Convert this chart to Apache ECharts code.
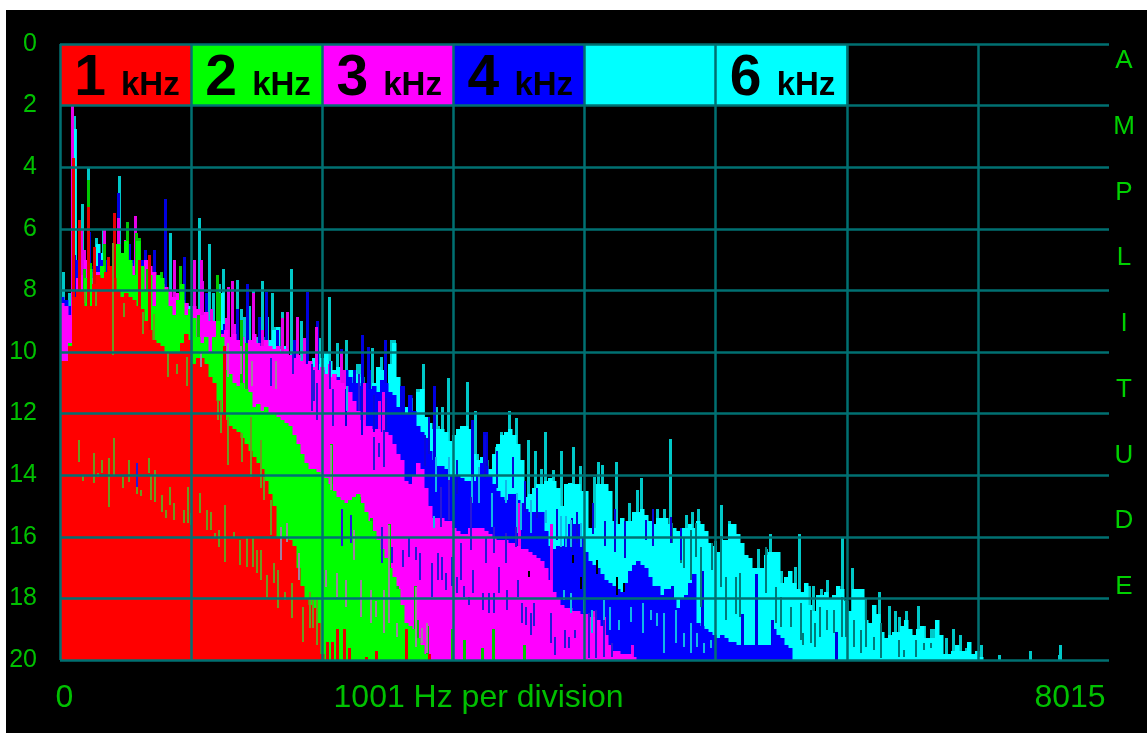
<!DOCTYPE html>
<html><head><meta charset="utf-8">
<style>html,body{margin:0;padding:0;background:#fff;width:1147px;height:733px;overflow:hidden}
#bg{position:absolute;left:6px;top:10px;width:1141px;height:723px;background:#000}
#c{position:absolute;left:0;top:0;width:1147px;height:733px}</style>
<script src="https://cdn.jsdelivr.net/npm/echarts@6/dist/echarts.min.js"></script>
</head><body><div id="bg"></div><div id="c"></div>
<script>
// Filled envelope of each sweep, one value every 2 FFT bins, amplitude scale 0..20
const redFill=[10.3,10.3,9.8,8.2,8,8,8.5,8.5,7.8,7.5,7.6,7.4,7.2,7.6,8,8.2,8.1,8.2,8.3,8.5,8.6,9,9.3,9.6,9.7,9.8,10,10,10,10,9.7,9.4,9.6,10.4,10.2,10.2,10.4,10.8,11,11.6,12,12.2,12.4,12.5,12.6,12.8,13,13.2,13.4,13.6,13.8,14.2,14.6,15,16,16,16,16.1,16.3,17,17.6,18,18.2,18.3,18.8,19.8];
const greenFill=[10.3,10.3,9.7,9,8,8,7.6,7.3,8,7.9,7.2,7.8,7.6,6.6,6.5,6.8,6.4,7,7.5,6.4,7.2,8,7.5,8.5,7.5,7.6,8,8.5,8.8,8.3,7.8,8.8,8.6,8.9,9.5,9.7,9.5,10,9.5,9,9.5,10.6,10.7,11,11.1,11,11.2,11.3,11.8,11.7,11.9,11.8,12,12,12.1,12.2,12.3,12.4,12.7,13,13.3,13.6,13.8,13.8,13.9,14,14.1,14.3,14.5,14.7,14.8,14.9,14.8,14.7,14.6,14.9,15.2,15.5,15.8,16.1,16.4,16.7,17,17.3,17.7,18.2,18.8,18.9,19,19.3,19.5,19.8];
const magentaFill=[8.4,8.5,8.8,9,7.6,7.5,7,7.4,7.6,7.4,7.3,7.6,7.6,7,7.2,7.4,7.2,7.1,7.2,7.6,7.5,7,7.2,7.4,7.6,7.8,7.9,8,8.2,8.1,8.3,8.4,8.6,8.5,8.6,8.8,8.7,9,9,9.2,9.4,9.3,9.5,9.4,9.6,9.5,9.7,9.6,9.4,9.7,9.8,9.6,9.8,9.9,9.8,10,9.9,10.1,10.2,10.1,10.3,10.4,10.3,10.5,10.6,10.5,10.7,10.8,10.7,10.9,11,11.1,11.3,11.6,11.9,12.2,12.4,12.4,12.5,12.5,12.6,12.6,12.7,13,13.3,13.5,14.2,14.3,14,13.6,13.8,14.4,15,15.4,15.4,15.4,15.5,15.5,15.7,15.8,15.9,15.9,15.7,15.7,15.7,15.7,15.8,15.9,16,16.1,16.1,16.1,16.2,16.2,16.3,16.4,16.4,16.5,16.6,16.7,16.8,17,17.4,17.8,18,18.2,18.3,18.3,18.4,18.4,18.5,18.5,18.6,18.6,18.7,18.9,19.2,19.5,19.7,19.7,19.8,19.8,19.8,19.9];
const blueFill=[8.2,8.3,8.5,8.6,7,7.2,7,7.2,7.3,7.2,7,7,7.2,7,6.8,7,7.1,7.1,7,7.2,7,7.2,7.8,8,8.3,8.4,8.5,8.6,8.7,8.7,8.6,8.6,8.7,9,9.4,9.6,9.5,9.6,9.3,9.6,9.3,9.2,9.8,9.9,10,9.8,10,10.1,10,10.1,10,10,10.2,10.1,10.3,10.4,10.2,10.4,10.6,10.6,10.5,10.7,10.4,10.5,10.6,10.6,10.7,10.8,10.7,10.8,10.9,10.6,10.8,11,11,11.1,11,11.2,11.1,11.3,10.9,11,11.3,11.4,11.8,12,12,11.4,11.9,12.4,12.6,12.8,13.2,13.5,13.7,13.7,13.8,14,14,14,14.1,14.2,14.2,14.2,14,13.6,13.7,14,14.3,14.5,14.7,14.8,14.6,14.6,14.8,14.9,15.1,15.2,15.2,15.2,15.2,15.8,16.3,16.4,16.3,16.3,16,15.6,15.6,15.6,16,16.5,16.8,16.9,17,17.2,17.4,17.5,17.6,17.7,17.8,17.5,17.1,16.9,16.8,16.9,17,17.3,17.6,17.6,17.9,17.7,17.7,18,18.3,18,17.9,17.5,17.2,18.8,18.9,19,19.1,19.2,19.3,19.2,19.3,19.4,19.4,19.5,19.5,19.5,19.5,19.5,19.5,19.5,19.5,19.5,19,19.2,19.3,19.5,19.6];
const cyanFill=[8.2,8.3,8.6,2.75,7.5,8,7,7.5,7.3,6.5,6.8,7.5,7.5,7.2,6.9,7,7.2,7.6,7.2,7.1,7.3,7.6,7.9,8.2,8.4,8.4,8.3,8.5,8.4,8.6,8.6,8.4,8.5,9.2,9,9.4,9.3,9.3,9.5,8.2,8.1,9.4,9.6,9.6,9.7,9.5,9.8,9.8,9.9,9.8,9.5,9.8,9.6,9.3,9.2,9.9,9.8,10.2,10.4,10.2,10.3,10.5,10.3,10.2,10.4,10.2,10,10.3,10.6,10.5,10.6,10.8,10.6,10.6,10.7,10.8,11.2,11.3,11,10.5,10.6,11.2,10.4,9.7,10.8,11.8,11.8,11.9,12.1,11.3,11.2,12.1,12.3,12.5,12.5,12.5,12.6,12.9,12.7,12.5,12.4,12.4,12.5,13.3,13.5,13.4,13.5,13.8,13.3,13,12.7,12.6,12.5,12.7,13,13.5,14.7,14.6,14.4,14.3,14.3,14.2,14.1,14.2,14.4,15,14.3,14.25,14.3,14.3,14.5,14.5,15.7,15.7,14.3,14.3,14.3,14.5,15.5,15.6,15.4,15.5,15.5,15.2,15.2,15.1,15.3,15.5,15.6,15.4,15.4,15.4,15.6,15.7,15.8,15.7,15.7,15.6,15.7,15.5,15.6,15.8,16.2,16.3,16.5,16.1,16.1,15.6,15.6,15.9,16.2,16.6,16.7,17,17,17,16.6,16.5,16.5,16.5,17.5,17.3,17.1,17.5,17.7,17.8,17.5,18.2,18.4,17.9,17.9,17.8,18,17.9,17.6,17.7,18.1,18.4,17.7,17.7,17.7,18.7,18.8,18.2,18.5,19.1,19.3,19.2,19.1,19.1,18.9,18.7,19,19.2,19,18.9,19.3,19.3,19.3,18.7,19.2,19.8,19.8,19.7,19.5,19.7,19.7,19.4,19.8,19.7,19.9];
// Isolated peaks: [FFT bin, amplitude]
const redPeaks=[[5.8,3.7],[9.2,5.7],[13.3,5.3],[26.7,5.5],[23.3,6.9],[44.2,6.85],[16.7,6.6],[38.8,7],[81.7,9.8],[133.3,19.4],[135.8,19.4],[138.3,19],[141.7,19],[144,19.6],[152.5,19.9],[157.5,19.7],[172.5,19],[184,19.8]];
const greenPeaks=[[13.3,4.4],[33,5.77],[37.5,6.15],[39,6.3],[25.8,6.47],[21.7,6.5],[29,7.1],[11.7,7.3],[14.7,7.1],[43,7.3],[59.5,7.2],[78,7.5],[79.2,8.1],[50,7.4],[68.3,8.8],[90,8.96],[92.5,9.7],[135,13],[142,14.9],[149.2,14.7],[155,15.4],[164.2,15.6],[168.3,17.6],[177,17.6],[178.3,18.7],[183.3,18.9],[195.8,19],[201.7,19.35],[210.8,19.6],[216.2,19],[231.7,19.5]];
const magentaPeaks=[[5.3,2],[10,6],[11.7,6.7],[21.7,6],[28.7,5.66],[30.8,6.85],[32,6.36],[37,5.6],[40.8,7.55],[56.7,7],[66.7,7],[70,7],[70.6,7.7],[75,8.6],[82.5,8.9],[83.3,7.9],[85.3,7.7],[86.7,9.1],[96.3,8.1],[100.8,9.3],[102.5,9.8],[110,10],[110.8,8.9],[113,8.7],[116.7,10.6],[118,8.85],[121.7,9.55],[127.5,9.2],[134.2,10.4],[141.7,10.6],[140,10],[151.7,11],[159,11.6],[161.3,11.3],[229,14.9],[245,15.6],[266.7,18.4],[271.7,18.6],[285.8,19.5]];
const bluePeaks=[[6.7,6.85],[14.2,6.1],[19.2,6.8],[28.7,4.85],[34.2,6.5],[38,7],[42.2,6.7],[46.3,6.7],[52,5.04],[61.7,6.9],[72.5,8.1],[80,9.45],[81.7,9.1],[88.3,8.6],[93.3,7.8],[99.2,8.85],[102.5,8.05],[108.3,9.3],[116.7,9.6],[123.3,8.05],[128.3,9],[140,9.9],[146.7,10.6],[147.5,11.2],[150.8,9.45],[153.8,9.85],[154.2,10.6],[162,9.6],[170,11.1],[171,11.1],[186.7,11.1],[205.8,12.2],[211.7,12.6],[212.7,12.6],[305.8,17.6],[320.8,17.1],[340.8,18.5],[347.5,17.2],[355.8,18.7],[387.5,19.1]];
const cyanPeaks=[[6.3,2.35],[7.2,2.75],[10.3,5.2],[13.3,4],[17.5,6.3],[18.3,6.8],[20.8,6.04],[28.8,4.3],[41.3,7.1],[54.5,6.15],[63.3,8.5],[69.2,5.66],[73.8,6.5],[75.8,8.1],[76.7,9.6],[79,7.8],[81.2,7.3],[81.7,8.9],[88.3,7.66],[90,8.6],[91.7,8.85],[94.2,8.5],[96.3,8],[97.5,9.5],[100.5,7.7],[103.3,8.85],[105.8,8.1],[106.7,9.2],[108,9.2],[110.8,8.7],[112,10.15],[114,10.6],[115,7.3],[120,9],[125.8,10.4],[129.2,9.55],[134.2,8.2],[0.8,7.4],[4.2,8.1],[138.3,9.7],[142.5,9.6],[144.7,10.8],[148.3,10.4],[149.2,10.4],[154.2,10.9],[155.8,9.88],[157,11.5],[160,10.15],[163,11.45],[165.3,9.6],[166,9.6],[166.7,9.6],[167.5,10.8],[169.2,11.8],[174.2,11.9],[175.3,11.5],[178,11.2],[179,11.2],[180.5,11.2],[181.3,10.4],[187.5,11.8],[188.7,12.4],[190.8,11.8],[193.8,10.83],[195.8,12.9],[198.3,12.7],[200.8,12.4],[203,10.96],[207.2,11.9],[208.3,13.3],[217.5,13.1],[220.3,12.6],[224.2,11.9],[227.8,12.15],[233.7,12.86],[237,13.2],[240,13.8],[242,12.6],[246.2,13.83],[250.3,13.2],[256.3,13.1],[259.7,13.7],[266.7,14.05],[268.7,13.56],[270.8,13.67],[277.8,13.56],[284.2,14.9],[288,14.48],[290.3,14.1],[298.3,15.1],[301.7,15.1],[304.7,12.84],[312.5,15.3],[315.8,15.2],[318.8,15.1],[324,16.2],[327,16.15],[330,14.96],[334,15.5],[336.3,15.9],[338.3,16],[341,16.6],[348.7,16.4],[352.7,16.4],[354.7,15.9],[360,17.1],[367,16.97],[369,15.9],[374,17.6],[376.3,17.6],[380.3,17.7],[383.3,17.4],[390.8,16],[395.8,17],[400,18.1],[402,18],[409.2,17.8],[414.2,18.25],[417.2,18.4],[419.3,18.6],[422.5,18.4],[428.5,18.25],[431.7,18.9],[435,19],[436.7,19],[442.8,19.3],[446.2,19],[450,19.2],[453,19.6],[457.5,19.8],[460.5,19.5],[469.2,19.85],[484.7,19.7],[499.2,19.85],[500,19.5]];
// Narrow dips: [FFT bin, amplitude from, amplitude to] showing the sweep underneath
const redDips=[[9.2,12.86,13.56],[10.8,13.99,14.2],[16.3,13.29,14.26],[18.3,13.92,14.07],[20.5,13.51,13.94],[24.2,13.45,15.02],[26.7,12.78,13.99],[30.8,14.05,14.43],[33.8,13.51,14.21],[38,14.37,14.6],[40,14.48,14.67],[44.2,13.45,13.94],[45,13.99,14.8],[47.2,13.83,14.86],[50.3,14.64,15.18],[52.5,15.13,15.4],[54.5,14.37,14.97],[56.7,14.91,15.45],[61.7,15.13,15.56],[63.7,14.37,15.56],[65,15.24,15.62],[69.7,14.59,15.22],[72.8,15.13,15.78],[75,15.18,15.78],[77,15.89,16.05],[79.2,15.78,16.32],[82,14.97,16.81],[86.3,15.83,16.05],[89.7,16.1,16.91],[93.3,16.05,16.97],[96.3,16.05,16.97],[98.3,16.43,17.18],[100.3,16.43,17.4],[103.3,17.24,17.94],[106.7,16.86,17.51],[108.7,17.08,18.32],[112,17.78,18.05],[115.8,17.51,18.65],[121.3,18.27,19.4],[124.7,17.78,18.97],[126.3,18.05,18.97],[128.3,17.94,19.51],[78.3,11.56,12.2],[80,11.56,12.64],[83.3,12.1,13.67],[90.8,12.64,13.56],[95.3,12.1,14.05],[100,12.86,14.43],[101.7,14.05,14.8],[105,14.8,15.94],[25.8,6.46,10.1],[53.3,10.04,10.8],[58,10.4,10.7],[62.8,10.15,11.1],[46.7,8.75,9.6],[40.8,8.7,9.4],[17.5,8,8.5],[12.2,8,8.4],[31.7,8.4,8.85]];
const greenDips=[[110,15.67,16.75],[113.3,15.56,16.16],[119.2,16.54,17.4],[132.5,17.08,17.62],[135.3,13.02,14.48],[138.3,17.19,17.94],[142.5,17.4,18.27],[146.7,15.78,16.75],[150,17.4,18.6],[155,17.73,18.81],[157.5,18.1,18.6],[161.7,17.73,19.13],[164.2,15.62,18.81],[168.3,18.81,19.24],[177.5,17.62,19.57],[180.8,18.97,19.46],[183.3,18.81,19.78],[70,10.04,10.5],[83.3,9.7,10.8],[90,9.8,10.7],[95.8,10.3,11.1],[107.5,10.3,11.2]];
const magentaDips=[[9.2,12.86,13.2],[38,13.6,14.37],[105,10.2,11.1],[116,10,10.7],[125.5,10.4,11.9],[126.7,10.6,11.6],[134.5,10.3,11.2],[149,10.7,11.9],[128,11,12.2],[136,11.2,12.4],[140.8,15.1,16.3],[145,15.3,16.2],[160.8,15.67,16.86],[165.8,16.32,16.86],[171.3,16.43,16.97],[174.2,16,16.64],[177.5,16.32,16.75],[179.7,16.53,17.4],[185.5,16.86,17.94],[188.7,16.53,17.4],[190.8,16.64,17.4],[192.8,17.18,17.72],[195.8,16.64,17.6],[198,17.29,17.83],[200,16.21,17.4],[201.7,17.6,17.94],[204.2,17.94,18.21],[206.3,17.07,17.83],[211.3,17.83,18.37],[214.2,17.83,18.48],[216.7,17.83,18.48],[212.5,16,16.86],[219.2,16.97,17.83],[223.3,17.72,18.37],[227.5,15.67,16.32],[228.8,17.4,17.94],[230.8,18.16,18.81],[232.8,18.27,18.86],[235,18.48,19.18],[236.7,18.16,18.91],[216.7,15.67,16.53],[205,14.7,16.43],[222.5,15.88,16.86],[190,14.37,15.67],[194.2,14.15,15.45],[156.7,12.75,13.83],[161.7,12.53,13.72],[159.2,12.96,13.4],[245,18.48,19.46],[247,19.24,19.83],[252.2,19.02,19.62],[254.2,19.24,19.62],[257.2,19.02,19.29],[264.2,18.48,19.94],[267.5,18.37,19.94],[271.7,18.7,19.89],[275.8,19.45,19.89]];
const blueDips=[[143,11.1,11.9],[186.7,15.34,15.72],[187.5,13.4,14.53],[194.2,13.4,14.3],[205.8,14.05,14.91],[209.2,13.72,14.91],[215.5,14.59,15.67],[222.5,14.15,14.91],[228.3,14.59,15.88],[230,14.91,15.78],[235,14.8,15.88],[242.5,15.13,15.56],[250,15.34,16.32],[252.5,15.34,16.32],[255,15.45,16.32],[260,15.56,16.32],[251.7,17.72,18.05],[255,17.83,18.48],[261.7,17.94,18.48],[265.8,18.37,19.13],[271.7,18.05,18.7],[274.7,18.27,19.02],[279.2,18.7,19.02],[285,18.27,18.75],[291.3,18.16,19.13],[295.3,18.37,18.7],[298.3,18.48,18.91],[301.7,18.48,19.78],[307.5,18.38,19.46],[315,18.81,19.78],[311.7,19.13,19.57],[318.3,19.13,19.57],[321.7,19.46,19.78],[325,19.35,19.62]];
const cyanDips=[[305.5,15.56,16.21],[310,16,16.86],[311.7,16,17],[315,15.78,17.4],[317.5,15.56,16.65],[320,16.32,18.27],[325.5,16.21,17.08],[330,15.99,17.62],[332.5,17.3,18.7],[337.5,17.3,18.5],[339.7,17.19,18.59],[352.5,16.32,17.84],[357.5,17.62,18.81],[360,17.94,18.92],[365.3,18.27,18.92],[370,18.16,19.35],[371.3,19.13,19.5],[375,18.38,19.46],[377,18.81,19.57],[379.7,18.27,19.24],[383.3,18.38,19.03],[386.7,18.38,19.13],[390.8,17.94,19.24],[392.5,18.05,19.24],[396.7,18.7,19.57],[400,19.03,19.78],[402.5,18.05,19.57],[406.7,19.24,19.67],[410,18.81,19.95],[419.2,19.35,19.89],[421.7,19.67,19.89],[427.5,19.35,19.89],[431.7,19.46,19.67],[435,19.46,19.62]];
const blueOnCyanDips=[[142.5,11.2,12.4],[150.8,11.2,12.7],[156.7,11.4,12.6],[162.5,11.5,12.6],[184,12.1,13.3],[182,12.7,13.7],[198,13.5,14.6],[212,12.7,14.1],[218,13.2,14.4],[226,13.4,14.4],[232,14.2,15.2],[238,14.4,15.4],[248,15.1,16.1],[250,15.35,16.4],[255.8,15.4,16.5],[258,15.2,16.2],[266,14.9,15.9],[272,15.5,16.3],[277,15.1,16.5],[282,15.5,16.7],[292.5,15.45,16.1],[296.3,15.1,16.3],[305,15.35,16.2],[310,15.7,16.75]];
const holeDips=[[234.2,17.1,17.3],[260,17.3,17.7],[268.3,16.75,17.2],[278.3,17.3,17.9],[281.7,17.5,17.8],[256.3,16.6,16.85]];
// Colour key across the top of the plot
const keyDigits=["1","2","3","4","","6"];
const keyUnit="kHz";
const keyColors=["#ff0000","#00ff00","#ff00ff","#0000ff","#00ffff","#00ffff"];
const yTicks=[0,2,4,6,8,10,12,14,16,18,20];
const sideLetters=["A","M","P","L","I","T","U","D","E"];
const bottomTexts=["0","1001 Hz per division","8015"];
const divisionBins=65.6;

const TICK="#00c000", SIDE="#00d000", GRID="#007072", FONT="'Liberation Sans',Arial,sans-serif";

function bars(values){return values.map((v,i)=>[i*2,v,20]);}
function columnSeries(data,color,binsWide,z,extra){
  return {type:"custom",coordinateSystem:"cartesian2d",clip:true,silent:true,z:z,
    encode:{x:0,y:[1,2]},data:data,animation:false,
    renderItem:function(p,api){
      const a=api.coord([api.value(0),api.value(1)]);
      const b=api.coord([api.value(0),api.value(2)]);
      const w=Math.round(api.size([binsWide,0])[0])+extra;
      const x=Math.round(a[0]), y=Math.round(a[1]);
      return {type:"rect",shape:{x:x,y:y,width:w,height:Math.round(b[1])-y},style:{fill:color}};
    }};
}
function peaks(list){return list.map(p=>[p[0],p[1],20]);}
const layers=[
 [cyanFill,cyanPeaks,"#00ffff","#00c8c8"],
 [blueFill,bluePeaks,"#0000ff","#0000e0"],
 [magentaFill,magentaPeaks,"#ff00ff","#e800e8"],
 [greenFill,greenPeaks,"#00ff00","#00c800"],
 [redFill,redPeaks,"#ff0000","#e80000"]];
const series=[];
layers.forEach((l,i)=>{
  series.push(columnSeries(peaks(l[1]),l[3],1,2+i*2,1));
  series.push(columnSeries(bars(l[0]),l[2],2,3+i*2,0.5));
});
[[cyanDips,"#007a7a"],[blueOnCyanDips,"#0808d8"],[blueDips,"#10b8e8"],[magentaDips,"#2818d8"],[greenDips,"#a080a0"],[redDips,"#6e9a1e"],[holeDips,"#000000"]].forEach((d,i)=>{
  series.push(columnSeries(d[0],d[1],1,14+i,0));
});
series.push({type:"custom",coordinateSystem:"cartesian2d",silent:true,z:22,animation:false,clip:false,
  encode:{x:0,y:1},
  data:keyDigits.map((d,i)=>[i*divisionBins,0,(i+1)*divisionBins,2,i]),
  renderItem:function(p,api){
    const i=api.value(4);
    const a=api.coord([api.value(0),api.value(1)]);
    const b=api.coord([api.value(2),api.value(3)]);
    const kids=[{type:"rect",shape:{x:a[0],y:a[1],width:b[0]-a[0],height:b[1]-a[1]},style:{fill:keyColors[i]}}];
    if(keyDigits[i]){
      kids.push({type:"text",style:{x:a[0]+30,y:a[1]+35,text:keyDigits[i],fill:"#000",font:"bold 57px "+FONT,textAlign:"center",textVerticalAlign:"middle"}});
      kids.push({type:"text",style:{x:a[0]+61,y:a[1]+42,text:keyUnit,fill:"#000",font:"bold 33px "+FONT,textAlign:"left",textVerticalAlign:"middle"}});
    }
    return {type:"group",children:kids};
  }});

const graphic=[];
sideLetters.forEach((t,i)=>graphic.push({type:"text",x:1124,y:61+i*65.75,z:40,
  style:{text:t,fill:SIDE,font:"26px "+FONT,textAlign:"center",textVerticalAlign:"middle"}}));
[[64.5,"center"],[478.5,"center"],[1070,"center"]].forEach((p,i)=>graphic.push({type:"text",x:p[0],y:698,z:40,
  style:{text:bottomTexts[i],fill:TICK,font:"32px "+FONT,textAlign:p[1],textVerticalAlign:"middle"}}));

const chart=echarts.init(document.getElementById("c"),null,{renderer:"canvas",width:1147,height:733});
chart.setOption({
  animation:false,backgroundColor:"transparent",
  grid:{left:60,right:38,top:44,bottom:73,containLabel:false},
  xAxis:{type:"value",min:0,max:8*divisionBins,interval:divisionBins,z:25,
    axisLine:{show:false},axisTick:{show:false},axisLabel:{show:false},
    splitLine:{show:true,showMaxLine:false,lineStyle:{color:GRID,width:2.5}}},
  yAxis:{type:"value",inverse:true,min:yTicks[0],max:yTicks[yTicks.length-1],interval:2,z:25,
    axisLine:{show:false},axisTick:{show:false},
    axisLabel:{show:true,color:TICK,fontFamily:FONT,fontSize:25,margin:23,align:"right"},
    splitLine:{show:true,lineStyle:{color:GRID,width:2.5}}},
  graphic:graphic,
  series:series
});
</script></body></html>
